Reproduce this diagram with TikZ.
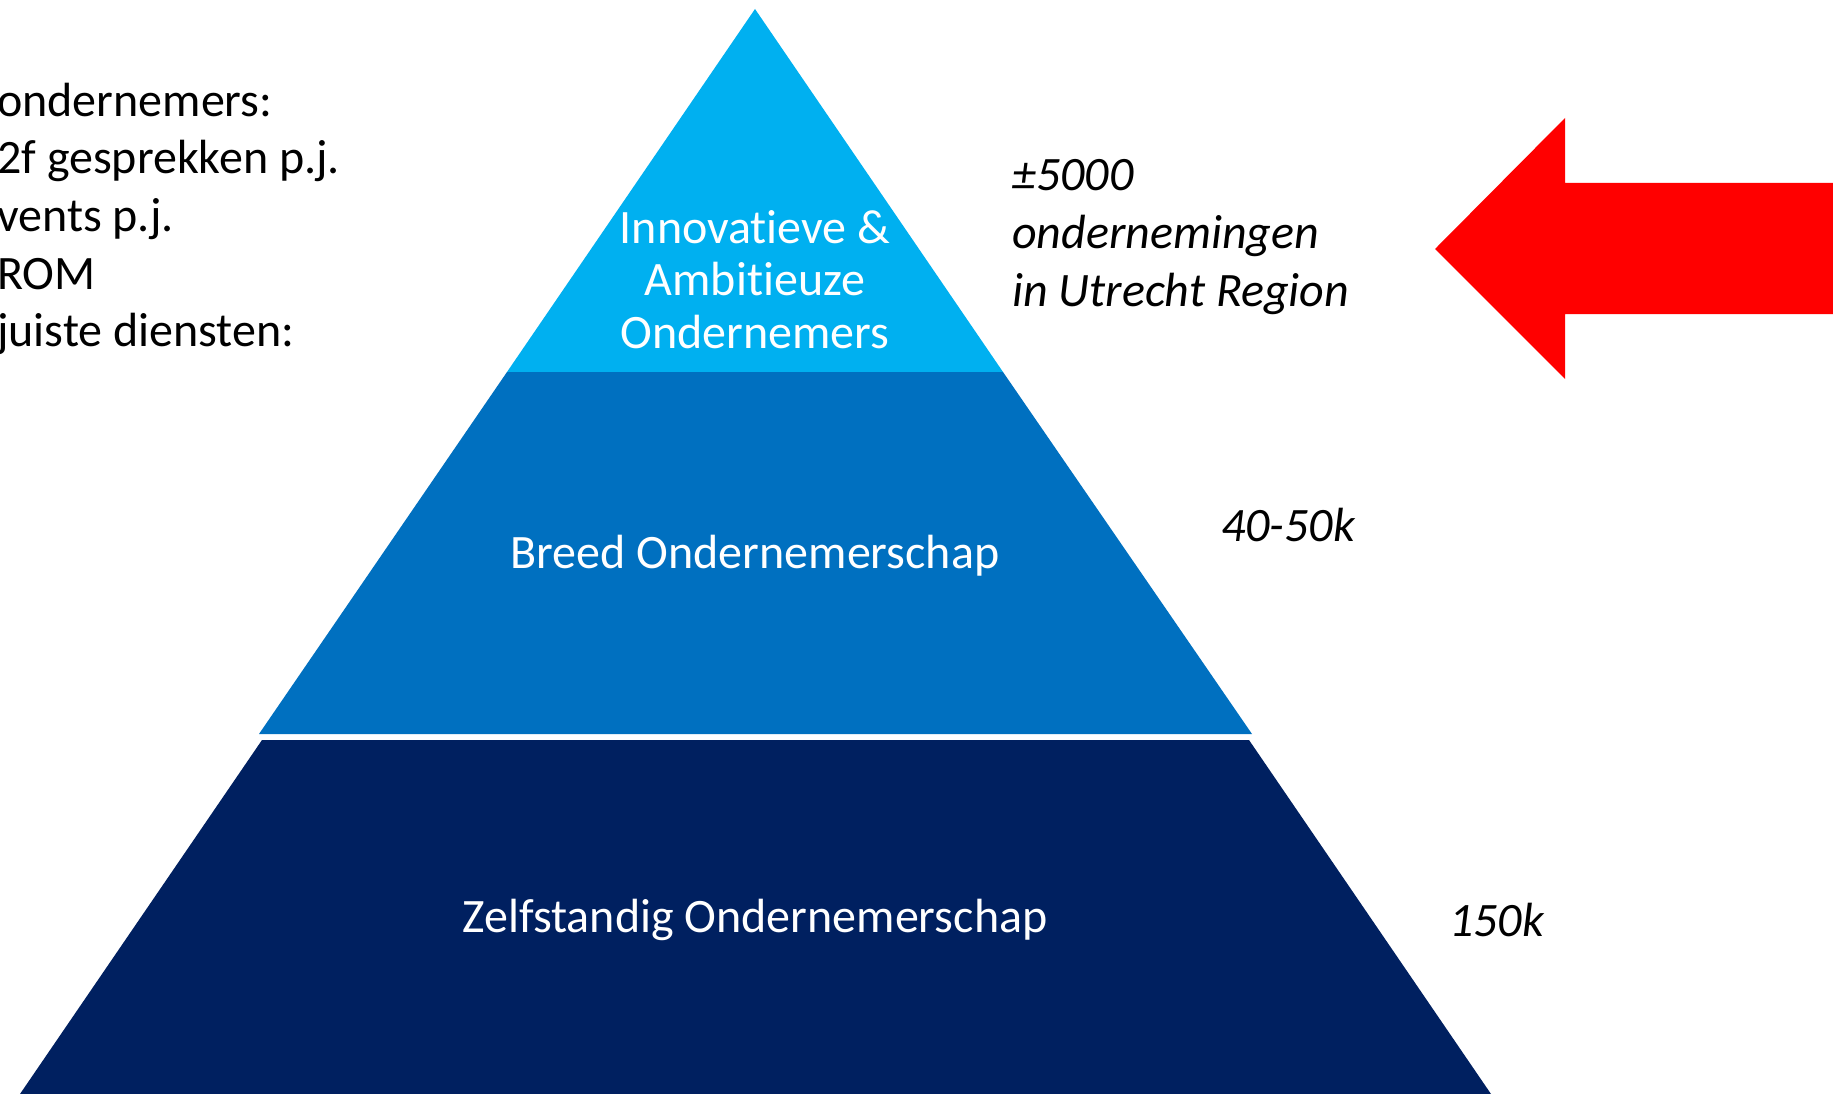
\documentclass[tikz,border=0pt]{standalone}
\usepackage{fontspec}
\setmainfont{Carlito}[RawFeature={-liga;-clig}]
\definecolor{tiertop}{HTML}{00B0F0}
\definecolor{tiermid}{HTML}{0070C0}
\definecolor{tierbot}{HTML}{002060}
\definecolor{arrowred}{HTML}{FF0000}
\tikzset{
  lbl/.style={inner sep=0pt, font=\fontsize{48}{58}\selectfont},
  pyrtext/.style={lbl, text=white, anchor=base},
  sidetext/.style={lbl, text=black, anchor=base west},
  numtext/.style={lbl, text=black, anchor=base west, font=\fontsize{48}{58}\selectfont\itshape},
}
\begin{document}
\begin{tikzpicture}[x=1pt,y=-1pt]
\useasboundingbox (0,0) rectangle (1833,1094);
\clip (0,0) rectangle (1833,1094);
\fill[white] (0,0) rectangle (1833,1094);
% pyramid tiers
\fill[tiertop, line join=round] (755,9) -- (1003,372) -- (507,372) -- cycle;
\fill[tiermid] (507,372) -- (1003,372) -- (1252,734) -- (259,734) -- cycle;
\fill[tierbot] (262,740) -- (1249,740) -- (1491,1094) -- (20,1094) -- cycle;
% red arrow
\fill[arrowred] (1435,249) -- (1565,118) -- (1565,183) -- (1840,183) -- (1840,314) -- (1565,314) -- (1565,379) -- cycle;
% pyramid texts
\node[pyrtext] (t1) at (755,243) {Innovatieve \&};
\node[pyrtext] (t2) at (755,295.5) {Ambitieuze};
\node[pyrtext] (t3) at (755,348) {Ondernemers};
\node[pyrtext] (m1) at (755,568) {Breed Ondernemerschap};
\node[pyrtext] (b1) at (755,932) {Zelfstandig Ondernemerschap};
% left text (clipped)
\node[sidetext] (l1) at (-3,117) {ondernemers:};
\node[sidetext] (l2) at (-3,174) {2f gesprekken p.j.};
\node[sidetext] (l3) at (-3,231.5) {vents p.j.};
\node[sidetext] (l4) at (-3,289) {ROM};
\node[sidetext] (l5) at (-3,346) {juiste diensten:};
% right numbers
\node[numtext] (r1) at (1012,190) {±5000};
\node[numtext] (r2) at (1012,248) {ondernemingen};
\node[numtext] (r3) at (1012,306) {in Utrecht Region};
\node[numtext] (r4) at (1221,541) {40-50k};
\node[numtext] (r5) at (1449,936.5) {150k};
\end{tikzpicture}
\end{document}
